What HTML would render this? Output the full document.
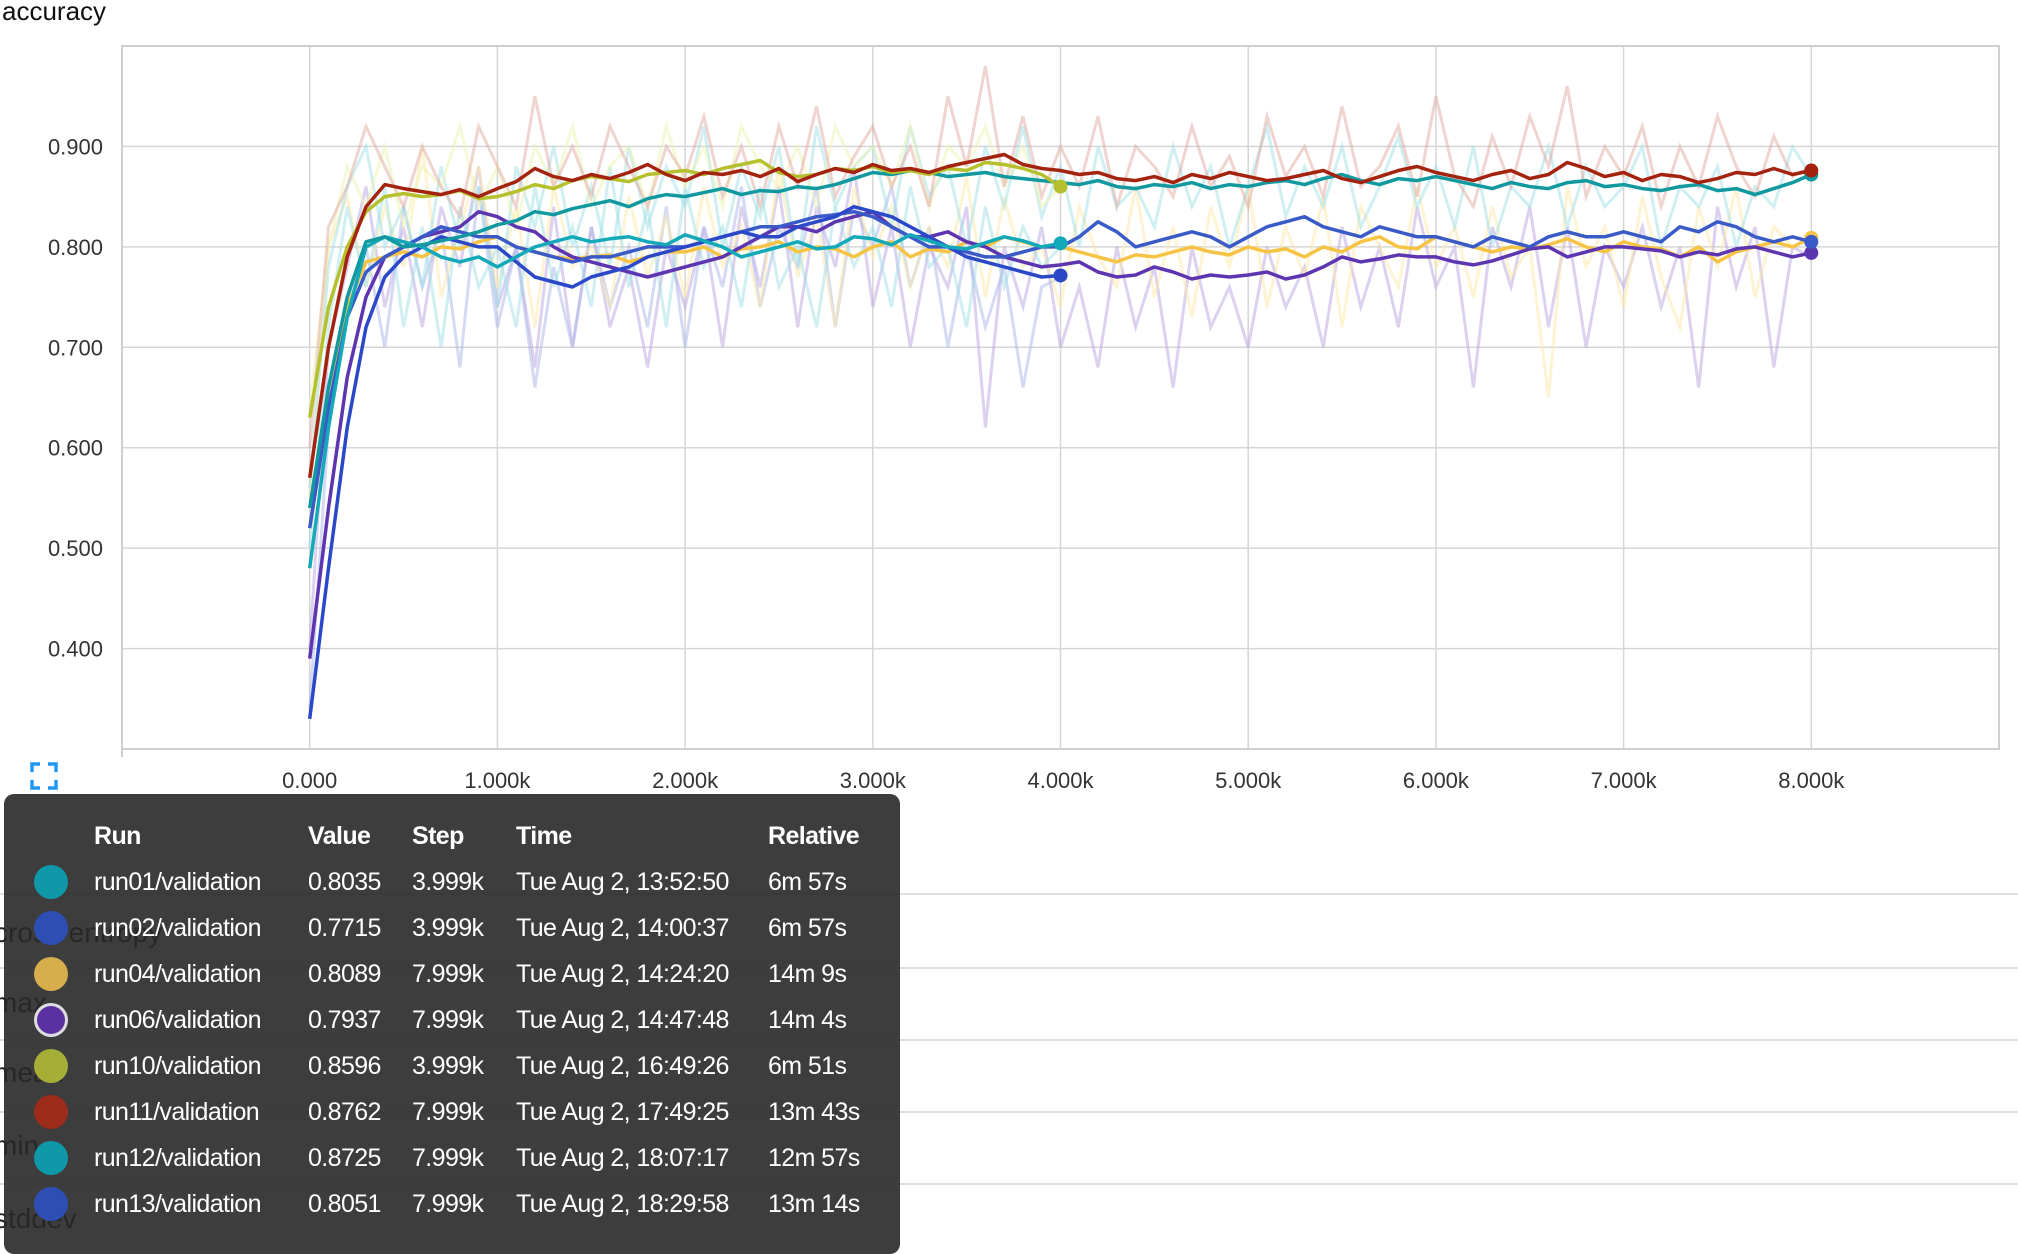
<!DOCTYPE html>
<html><head><meta charset="utf-8">
<style>
html,body{margin:0;padding:0;background:#fff;width:2018px;height:1242px;overflow:hidden;font-family:"Liberation Sans",sans-serif;}
#chart{position:absolute;left:0;top:0;}
.tt{position:absolute;left:4px;top:794px;width:896px;height:460px;background:rgba(40,40,40,0.9);border-radius:10px;color:#fff;}
.tt table{border-collapse:collapse;position:absolute;left:0;top:19px;font-size:25px;letter-spacing:-0.6px;}
.tt td,.tt th{padding:0;height:46px;text-align:left;white-space:nowrap;}
.dot{display:inline-block;width:34px;height:34px;border-radius:50%;vertical-align:middle;}
.bg-line{position:absolute;left:0;width:2018px;height:2px;background:#e0e0e0;}
.bg-label{position:absolute;left:-6px;font-size:28px;color:#222;}
</style></head><body>
<div class="bg-line" style="top:893px"></div>
<div class="bg-line" style="top:967px"></div>
<div class="bg-line" style="top:1039px"></div>
<div class="bg-line" style="top:1111px"></div>
<div class="bg-line" style="top:1183px"></div>
<div class="bg-label" style="top:917px">cross entropy</div>
<div class="bg-label" style="top:987px">max</div>
<div class="bg-label" style="top:1057px">mean</div>
<div class="bg-label" style="top:1130px">min</div>
<div class="bg-label" style="top:1203px">stddev</div>

<svg id="chart" width="2018" height="1242"></svg>

<div class="tt">
<table>
<tr><th style="width:90px"></th><th style="width:214px">Run</th><th style="width:104px">Value</th><th style="width:104px">Step</th><th style="width:252px">Time</th><th>Relative</th></tr>
<tr><td style="padding-left:30px"><span class="dot" style="background:#0e98a8"></span></td><td>run01/validation</td><td>0.8035</td><td>3.999k</td><td>Tue Aug 2, 13:52:50</td><td>6m 57s</td></tr>
<tr><td style="padding-left:30px"><span class="dot" style="background:#2d4fb5"></span></td><td>run02/validation</td><td>0.7715</td><td>3.999k</td><td>Tue Aug 2, 14:00:37</td><td>6m 57s</td></tr>
<tr><td style="padding-left:30px"><span class="dot" style="background:#d6ae4c"></span></td><td>run04/validation</td><td>0.8089</td><td>7.999k</td><td>Tue Aug 2, 14:24:20</td><td>14m 9s</td></tr>
<tr><td style="padding-left:30px"><span class="dot" style="background:#5b31a2;box-shadow:0 0 0 3px #ddd inset;border:0"></span></td><td>run06/validation</td><td>0.7937</td><td>7.999k</td><td>Tue Aug 2, 14:47:48</td><td>14m 4s</td></tr>
<tr><td style="padding-left:30px"><span class="dot" style="background:#a5ae36"></span></td><td>run10/validation</td><td>0.8596</td><td>3.999k</td><td>Tue Aug 2, 16:49:26</td><td>6m 51s</td></tr>
<tr><td style="padding-left:30px"><span class="dot" style="background:#9c2b19"></span></td><td>run11/validation</td><td>0.8762</td><td>7.999k</td><td>Tue Aug 2, 17:49:25</td><td>13m 43s</td></tr>
<tr><td style="padding-left:30px"><span class="dot" style="background:#0e98a8"></span></td><td>run12/validation</td><td>0.8725</td><td>7.999k</td><td>Tue Aug 2, 18:07:17</td><td>12m 57s</td></tr>
<tr><td style="padding-left:30px"><span class="dot" style="background:#2d4fb5"></span></td><td>run13/validation</td><td>0.8051</td><td>7.999k</td><td>Tue Aug 2, 18:29:58</td><td>13m 14s</td></tr>
</table>
</div>

<script>
const xTicks=[0,1000,2000,3000,4000,5000,6000,7000,8000];
const xTickLabels=["0.000","1.000k","2.000k","3.000k","4.000k","5.000k","6.000k","7.000k","8.000k"];
const yTicks=[0.4,0.5,0.6,0.7,0.8,0.9];
const yTickLabels=["0.400","0.500","0.600","0.700","0.800","0.900"];
const stepInterval=100;
const run11=[.57,.70,.79,.84,.862,.858,.855,.852,.857,.85,.858,.865,.878,.87,.866,.872,.868,.874,.882,.872,.866,.874,.872,.876,.87,.878,.865,.872,.878,.874,.882,.876,.878,.874,.88,.884,.888,.892,.882,.878,.876,.872,.874,.868,.866,.87,.864,.872,.868,.874,.87,.866,.868,.872,.876,.868,.864,.87,.876,.88,.874,.87,.866,.872,.876,.868,.872,.884,.878,.87,.874,.866,.872,.87,.864,.868,.874,.872,.878,.872,.876];
const run10=[.63,.74,.80,.835,.85,.853,.85,.852,.856,.848,.85,.855,.862,.858,.866,.87,.868,.865,.872,.874,.876,.872,.878,.882,.886,.874,.87,.872,.878,.876,.88,.874,.876,.872,.878,.876,.884,.882,.878,.872,.86];
const run12=[.54,.66,.75,.805,.81,.8,.802,.806,.81,.815,.822,.826,.835,.832,.838,.842,.846,.84,.848,.852,.85,.854,.858,.852,.856,.855,.86,.858,.862,.868,.874,.872,.876,.874,.87,.872,.874,.87,.868,.866,.864,.862,.866,.86,.858,.862,.86,.864,.858,.862,.86,.864,.866,.862,.868,.872,.866,.862,.868,.866,.87,.866,.862,.858,.864,.86,.858,.864,.866,.86,.862,.858,.856,.86,.862,.856,.858,.852,.858,.864,.872];
const run01=[.48,.62,.73,.80,.81,.805,.80,.79,.785,.79,.78,.79,.80,.805,.81,.805,.808,.81,.805,.802,.812,.806,.80,.79,.795,.80,.805,.798,.80,.81,.808,.802,.812,.806,.80,.798,.804,.81,.806,.80,.8035];
const run04=[.52,.64,.74,.785,.79,.795,.79,.80,.798,.805,.81,.80,.795,.79,.788,.79,.792,.785,.79,.795,.795,.80,.79,.798,.80,.805,.795,.80,.798,.79,.80,.805,.79,.798,.795,.805,.80,.81,.805,.80,.80,.795,.79,.785,.792,.79,.795,.80,.795,.792,.80,.795,.798,.79,.80,.795,.805,.81,.80,.798,.81,.805,.80,.795,.80,.798,.802,.808,.80,.795,.805,.80,.798,.79,.80,.785,.795,.80,.805,.80,.809];
const run06=[.39,.54,.67,.75,.79,.80,.81,.815,.82,.835,.83,.82,.815,.80,.79,.785,.78,.775,.77,.775,.78,.785,.79,.80,.81,.82,.82,.815,.825,.83,.835,.82,.81,.81,.815,.805,.80,.79,.785,.78,.782,.785,.775,.77,.772,.78,.775,.768,.772,.77,.772,.775,.768,.772,.78,.79,.785,.788,.792,.79,.79,.785,.782,.786,.792,.798,.80,.79,.795,.80,.80,.798,.796,.79,.795,.792,.798,.80,.795,.79,.794];
const run02=[.33,.48,.62,.72,.77,.79,.80,.81,.805,.80,.80,.785,.77,.765,.76,.77,.775,.78,.79,.795,.80,.805,.81,.815,.81,.81,.82,.825,.83,.84,.835,.83,.82,.81,.80,.79,.785,.78,.775,.77,.7715];
const run13=[.52,.64,.73,.775,.79,.80,.81,.82,.815,.81,.81,.80,.795,.79,.785,.79,.79,.795,.80,.80,.80,.805,.81,.815,.82,.82,.825,.83,.832,.835,.83,.82,.81,.80,.80,.795,.79,.79,.795,.80,.80,.81,.825,.815,.80,.805,.81,.815,.81,.80,.81,.82,.825,.83,.82,.815,.81,.82,.815,.81,.81,.805,.80,.81,.805,.80,.81,.815,.81,.81,.815,.81,.805,.82,.815,.825,.82,.81,.805,.81,.805];
const raw11=[.6,.82,.86,.92,.88,.84,.9,.86,.83,.92,.88,.84,.95,.86,.9,.85,.92,.88,.84,.9,.87,.93,.85,.9,.84,.92,.86,.94,.85,.89,.92,.86,.9,.84,.95,.88,.98,.86,.93,.85,.9,.86,.93,.84,.9,.88,.85,.92,.86,.89,.84,.93,.87,.9,.85,.94,.86,.88,.92,.85,.95,.87,.84,.91,.86,.93,.88,.96,.85,.9,.87,.92,.84,.9,.86,.93,.88,.85,.91,.87,.88];
const raw04=[.55,.8,.85,.76,.84,.78,.9,.75,.82,.88,.76,.84,.72,.86,.78,.8,.74,.85,.77,.83,.75,.86,.78,.82,.74,.88,.77,.83,.72,.86,.79,.84,.76,.82,.78,.87,.75,.85,.78,.8,.74,.84,.79,.76,.86,.75,.82,.73,.84,.78,.86,.74,.82,.77,.85,.72,.84,.8,.76,.86,.78,.82,.75,.84,.77,.8,.65,.86,.78,.82,.74,.85,.77,.72,.84,.78,.86,.75,.82,.8,.81];
const raw12=[.56,.78,.86,.9,.8,.84,.76,.88,.8,.86,.74,.88,.82,.9,.8,.86,.78,.9,.82,.88,.84,.92,.8,.88,.83,.9,.78,.92,.84,.88,.9,.82,.92,.85,.88,.8,.9,.84,.92,.83,.88,.8,.9,.84,.86,.82,.9,.84,.88,.8,.86,.92,.83,.88,.84,.9,.82,.86,.91,.84,.88,.82,.9,.8,.86,.84,.9,.82,.88,.84,.86,.9,.8,.86,.84,.88,.8,.86,.84,.9,.87];
const raw06=[.4,.7,.78,.86,.74,.82,.72,.84,.78,.88,.74,.8,.68,.84,.7,.82,.72,.78,.68,.8,.74,.82,.7,.84,.76,.86,.72,.84,.78,.88,.74,.82,.7,.8,.76,.84,.62,.8,.74,.82,.7,.76,.68,.8,.72,.78,.66,.8,.72,.76,.7,.8,.74,.78,.7,.82,.74,.8,.72,.84,.76,.8,.66,.82,.76,.84,.72,.82,.7,.8,.76,.82,.74,.8,.66,.84,.76,.82,.68,.8,.79];
const raw10=[.64,.8,.88,.84,.9,.82,.88,.86,.92,.84,.88,.82,.9,.86,.92,.84,.88,.9,.84,.92,.86,.9,.84,.92,.88,.86,.9,.84,.92,.88,.9,.86,.92,.84,.9,.88,.92,.86,.9,.84,.86];
const raw01=[.5,.72,.84,.76,.86,.72,.82,.7,.84,.76,.8,.72,.86,.76,.82,.74,.88,.76,.84,.72,.86,.78,.82,.74,.86,.76,.8,.72,.84,.78,.82,.74,.86,.78,.8,.72,.84,.76,.82,.78,.8];
const raw02=[.34,.62,.74,.8,.7,.84,.76,.82,.68,.86,.72,.8,.66,.78,.7,.82,.74,.8,.72,.84,.7,.82,.76,.86,.74,.82,.78,.86,.72,.84,.8,.86,.76,.82,.7,.8,.72,.78,.66,.76,.77];

const NS="http://www.w3.org/2000/svg";
const svg=document.getElementById('chart');
const L=122,R=1999,T=46,B=749;
const xMin=-1000,xMax=9000,yMin=0.3,yMax=1.0;
function xs(v){return L+(v-xMin)/(xMax-xMin)*(R-L);}
function ys(v){return B-(v-yMin)/(yMax-yMin)*(B-T);}
function mk(tag,attrs){const e=document.createElementNS(NS,tag);for(const k in attrs)e.setAttribute(k,attrs[k]);svg.appendChild(e);return e;}

const title=mk('text',{x:2,y:20,'font-size':26,fill:'#111','font-family':'Liberation Sans, sans-serif'});
title.textContent='accuracy';



yTicks.forEach((t,i)=>{
  const g=mk('line',{x1:L,x2:R,y1:ys(t),y2:ys(t),stroke:'#d6d6d6','stroke-width':1.5});
  
  
  const lb=mk('text',{x:103,y:ys(t)+8,'font-size':22,fill:'#333','text-anchor':'end','font-family':'Liberation Sans, sans-serif'});
  lb.textContent=yTickLabels[i];
  
  
});
xTicks.forEach((t,i)=>{
  const g=mk('line',{x1:xs(t),x2:xs(t),y1:T,y2:B,stroke:'#d6d6d6','stroke-width':1.5});
  
  
  const lb=mk('text',{x:xs(t),y:788,'font-size':22,fill:'#333','text-anchor':'middle','font-family':'Liberation Sans, sans-serif'});
  lb.textContent=xTickLabels[i];
  
  
});
const frame=mk('path',{d:`M${L},${B+8}V${T}H${R}V${B}H${L}`,fill:'none',stroke:'#cfcfcf','stroke-width':2});



function pathFor(arr){return arr.map((v,i)=>(i?'L':'M')+xs(i*stepInterval).toFixed(1)+','+ys(v).toFixed(1)).join('');}

const raws=[[raw06,'#b9a6e0'],[raw02,'#a9b6ea'],[raw04,'#fde9a8'],[raw01,'#9fe0e8'],[raw12,'#9fe0e8'],[raw10,'#eef3b0'],[raw11,'#e0a9a0']];
raws.forEach(r=>{
  const p=mk('path',{d:pathFor(r[0]),fill:'none',stroke:r[1],'stroke-width':3,opacity:0.5});
  
  
});
const series=[[run04,'#f6c445','run04'],[run06,'#5e35b1','run06'],[run13,'#3a5bc7','run13'],[run02,'#2a48c8','run02'],[run01,'#13a9b9','run01'],[run12,'#11999f','run12'],[run10,'#b6c02c','run10'],[run11,'#a3230f','run11']];
series.forEach(s=>{
  const p=mk('path',{d:pathFor(s[0]),fill:'none',stroke:s[1],'stroke-width':3.5,'stroke-linejoin':'round'});
  
  
  const last=s[0].length-1;
  const c=mk('circle',{cx:xs(last*stepInterval),cy:ys(s[0][last]),r:7,fill:s[1]});
  
  
});
const ic=mk('path',{d:'M32,772v-8h8M48,764h8v8M56,780v8h-8M40,788h-8v-8',fill:'none',stroke:'#2196f3','stroke-width':3.5});


</script>
</body></html>
